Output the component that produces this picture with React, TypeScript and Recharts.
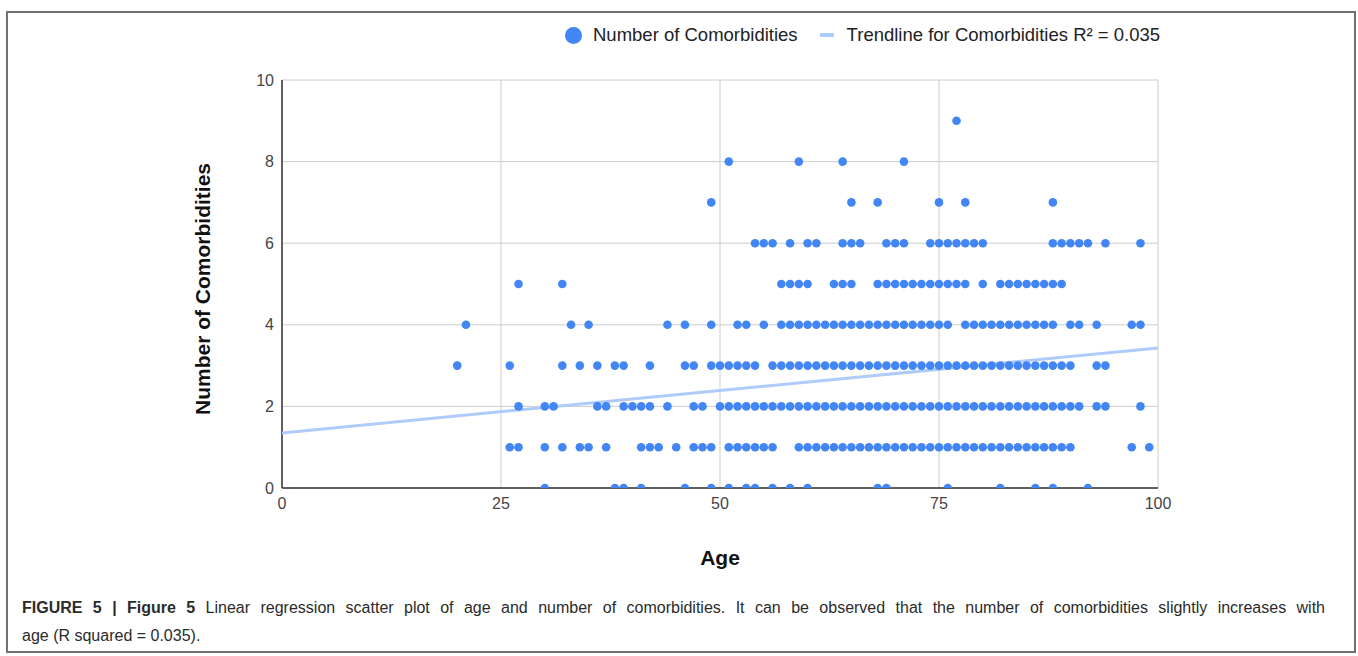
import React from 'react';
import { ScatterChart, Scatter, XAxis, YAxis, CartesianGrid } from 'recharts';

// Ages of patients, grouped by number of comorbidities (index = count)
const ages0 = [30, 38, 39, 41, 46, 49, 51, 53, 54, 56, 58, 60, 68, 69, 76, 82, 86, 88, 92];
const ages1 = [26, 27, 30, 32, 34, 35, 37, 41, 42, 43, 45, 47, 48, 49, 51, 52, 53, 54, 55, 56, 59, 60, 61, 62, 63, 64, 65, 66, 67, 68, 69, 70, 71, 72, 73, 74, 75, 76, 77, 78, 79, 80, 81, 82, 83, 84, 85, 86, 87, 88, 89, 90, 97, 99];
const ages2 = [27, 30, 31, 36, 37, 39, 40, 41, 42, 44, 47, 48, 50, 51, 52, 53, 54, 55, 56, 57, 58, 59, 60, 61, 62, 63, 64, 65, 66, 67, 68, 69, 70, 71, 72, 73, 74, 75, 76, 77, 78, 79, 80, 81, 82, 83, 84, 85, 86, 87, 88, 89, 90, 91, 93, 94, 98];
const ages3 = [20, 26, 32, 34, 36, 38, 39, 42, 46, 47, 49, 50, 51, 52, 53, 54, 56, 57, 58, 59, 60, 61, 62, 63, 64, 65, 66, 67, 68, 69, 70, 71, 72, 73, 74, 75, 76, 77, 78, 79, 80, 81, 82, 83, 84, 85, 86, 87, 88, 89, 90, 93, 94];
const ages4 = [21, 33, 35, 44, 46, 49, 52, 53, 55, 57, 58, 59, 60, 61, 62, 63, 64, 65, 66, 67, 68, 69, 70, 71, 72, 73, 74, 75, 76, 78, 79, 80, 81, 82, 83, 84, 85, 86, 87, 88, 90, 91, 93, 97, 98];
const ages5 = [27, 32, 57, 58, 59, 60, 63, 64, 65, 68, 69, 70, 71, 72, 73, 74, 75, 76, 77, 78, 80, 82, 83, 84, 85, 86, 87, 88, 89];
const ages6 = [54, 55, 56, 58, 60, 61, 64, 65, 66, 69, 70, 71, 74, 75, 76, 77, 78, 79, 80, 88, 89, 90, 91, 92, 94, 98];
const ages7 = [49, 65, 68, 75, 78, 88];
const ages8 = [51, 59, 64, 71];
const ages9 = [77];

const COUNT_ROWS = [ages0, ages1, ages2, ages3, ages4, ages5, ages6, ages7, ages8, ages9];

// Trendline endpoints (age 0 and age 100)
const trendAges = [0, 100];
const trendValues = [1.35, 3.43];

const AGE_TICKS = [0, 25, 50, 75, 100];
const COUNT_TICKS = [0, 2, 4, 6, 8, 10];

const SERIES_NAME = 'Number of Comorbidities';
const TREND_NAME = 'Trendline for Comorbidities R\u00B2 = 0.035';
const X_TITLE = 'Age';
const Y_TITLE = 'Number of Comorbidities';

const points = COUNT_ROWS.flatMap((ages, count) => ages.map((age) => ({ age, count })));
const trendData = trendAges.map((age, i) => ({ age, count: trendValues[i] }));

const FONT = '"Liberation Sans", Arial, Helvetica, sans-serif';
const DOT_COLOR = '#4285F4';
const TREND_COLOR = '#AFCBFA';

function Dot(props: any) {
  const { cx, cy } = props;
  if (cx == null || cy == null) return <g />;
  return <circle cx={cx} cy={cy} r={4.3} fill={DOT_COLOR} />;
}

function NoDot() {
  return <g />;
}

export default function App() {
  return (
    <div style={{ position: 'absolute', left: 0, top: 0, width: 1358, height: 656, background: '#fff', fontFamily: FONT }}>
      <div
        style={{
          position: 'absolute',
          left: 6,
          top: 11,
          width: 1346,
          height: 638,
          border: '2px solid #707070',
        }}
      />
      <div style={{ position: 'absolute', left: 0, top: 0 }}>
        <ScatterChart width={1358} height={656} margin={{ top: 80, right: 200, bottom: 138, left: 182 }}>
          <CartesianGrid stroke="#cccccc" strokeWidth={1} />
          <XAxis
            type="number"
            dataKey="age"
            domain={[0, 100]}
            ticks={AGE_TICKS}
            tickLine={false}
            axisLine={{ stroke: '#333333', strokeWidth: 1.5 }}
            tick={{ fill: '#444444', fontSize: 16, fontFamily: FONT }}
            tickMargin={4}
            height={30}
            allowDataOverflow
          />
          <YAxis
            type="number"
            dataKey="count"
            domain={[0, 10]}
            ticks={COUNT_TICKS}
            tickLine={false}
            axisLine={{ stroke: '#333333', strokeWidth: 1.5 }}
            tick={{ fill: '#444444', fontSize: 16, fontFamily: FONT }}
            width={100}
            allowDataOverflow
          />
          <Scatter
            name={TREND_NAME}
            data={trendData}
            line={{ stroke: TREND_COLOR, strokeWidth: 3 }}
            shape={NoDot}
            isAnimationActive={false}
          />
          <Scatter name={SERIES_NAME} data={points} shape={Dot} isAnimationActive={false} />
        </ScatterChart>
      </div>

      {/* Legend */}
      <div
        style={{
          position: 'absolute',
          left: 565,
          top: 24,
          display: 'flex',
          alignItems: 'center',
          fontSize: 18.5,
          color: '#222',
          whiteSpace: 'nowrap',
          height: 22,
        }}
      >
        <span style={{ display: 'inline-block', width: 17, height: 17, borderRadius: '50%', background: DOT_COLOR, marginRight: 11 }} />
        <span>{SERIES_NAME}</span>
        <span style={{ display: 'inline-block', width: 14, height: 4, background: TREND_COLOR, marginLeft: 22, marginRight: 13 }} />
        <span>{TREND_NAME}</span>
      </div>

      {/* Y axis title */}
      <div
        style={{
          position: 'absolute',
          left: 203,
          top: 289,
          transform: 'translate(-50%, -50%) rotate(-90deg)',
          fontSize: 21,
          fontWeight: 'bold',
          color: '#111',
          whiteSpace: 'nowrap',
        }}
      >
        {Y_TITLE}
      </div>

      {/* X axis title */}
      <div
        style={{
          position: 'absolute',
          left: 720,
          top: 558,
          transform: 'translate(-50%, -50%)',
          fontSize: 21,
          fontWeight: 'bold',
          color: '#111',
          whiteSpace: 'nowrap',
        }}
      >
        {X_TITLE}
      </div>

      {/* Caption */}
      <div
        style={{
          position: 'absolute',
          left: 22,
          top: 594,
          width: 1303,
          fontSize: 16,
          lineHeight: '28px',
          color: '#2b2b2b',
        }}
      >
        <div style={{ textAlign: 'justify', textAlignLast: 'justify', whiteSpace: 'normal' }}>
          <b>FIGURE 5 | Figure 5</b> Linear regression scatter plot of age and number of comorbidities. It can be observed that the number of comorbidities slightly increases with
        </div>
        <div style={{ whiteSpace: 'nowrap' }}>age (R squared = 0.035).</div>
      </div>
    </div>
  );
}
